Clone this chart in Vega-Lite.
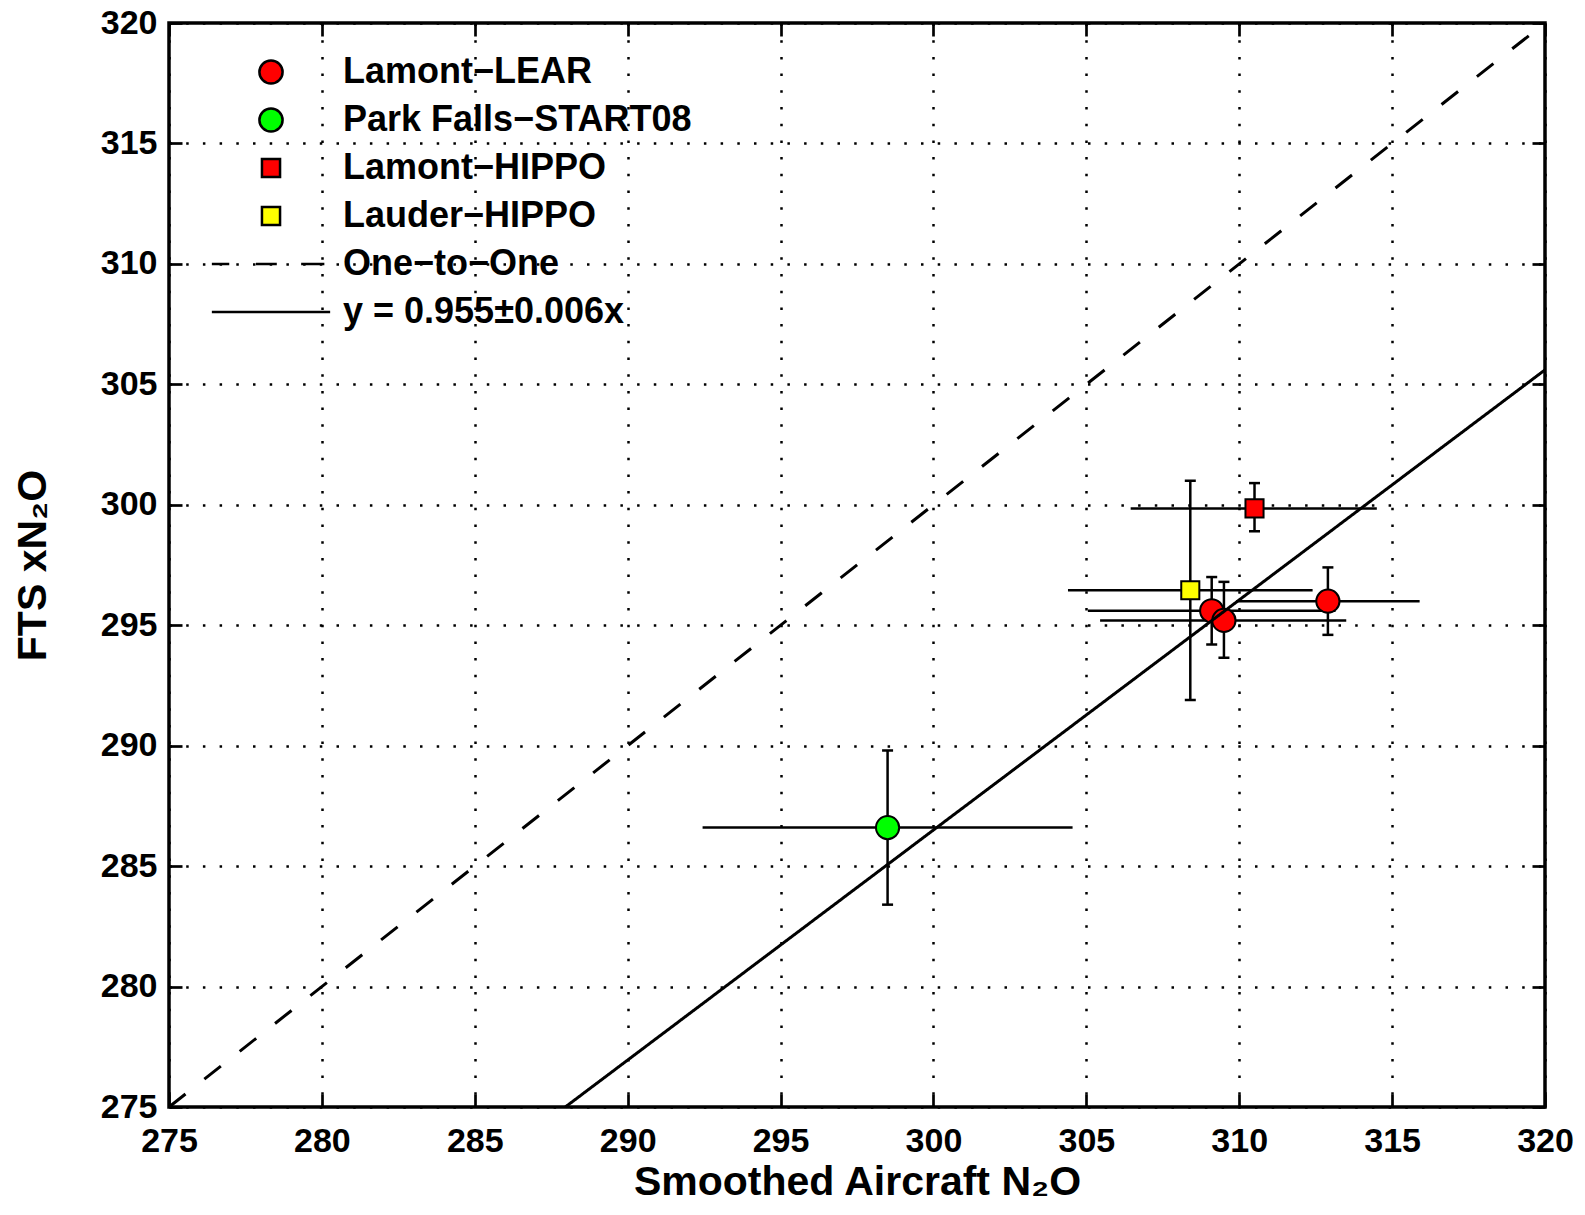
{
  "$schema": "https://vega.github.io/schema/vega-lite/v6.json",
  "width": 1376,
  "height": 1084,
  "autosize": {"type": "none"},
  "padding": {"left": 169, "top": 23, "right": 40, "bottom": 108},
  "background": "white",
  "config": {
    "view": {"stroke": "black", "strokeWidth": 3.5},
    "font": "Liberation Sans",
    "legend": {"symbolStrokeWidth": 2.5, "symbolOpacity": 1},
    "axis": {
      "labelFont": "Liberation Sans", "labelFontWeight": "bold", "labelFontSize": 34, "labelColor": "black",
      "titleFont": "Liberation Sans", "titleFontWeight": "bold", "titleFontSize": 41, "titleColor": "black",
      "gridColor": "black", "gridDash": [2.5, 14.2], "gridWidth": 2.5, "gridOpacity": 1,
      "tickColor": "black", "tickWidth": 2.7, "tickSize": -13, "domain": false,
      "labelFlush": false, "labelOverlap": false
    }
  },
  "datasets": {
    "pts": [
      {"series": "Lamont−LEAR", "x": 309.1, "y": 295.6, "xlo": 305.05, "xhi": 313.15, "ylo": 294.2, "yhi": 297.0},
      {"series": "Lamont−LEAR", "x": 309.5, "y": 295.2, "xlo": 305.45, "xhi": 313.5, "ylo": 293.65, "yhi": 296.8},
      {"series": "Lamont−LEAR", "x": 312.9, "y": 296.0, "xlo": 309.9, "xhi": 315.9, "ylo": 294.6, "yhi": 297.4},
      {"series": "Park Falls−START08", "x": 298.5, "y": 286.6, "xlo": 292.45, "xhi": 304.55, "ylo": 283.4, "yhi": 289.8},
      {"series": "Lauder−HIPPO", "x": 308.4, "y": 296.45, "xlo": 304.4, "xhi": 312.4, "ylo": 291.9, "yhi": 301.0},
      {"series": "Lamont−HIPPO", "x": 310.5, "y": 299.85, "xlo": 306.45, "xhi": 314.5, "ylo": 298.9, "yhi": 300.9}
    ],
    "lines": [
      {"series": "One−to−One", "x": 275, "y": 275},
      {"series": "One−to−One", "x": 320, "y": 320},
      {"series": "y = 0.955±0.006x", "x": 287.96, "y": 275},
      {"series": "y = 0.955±0.006x", "x": 320, "y": 305.6}
    ]
  },
  "layer": [
    {
      "data": {"name": "pts"},
      "layer": [
        {
          "mark": {"type": "rule", "color": "black", "strokeWidth": 2.5},
          "encoding": {
            "x": {"field": "xlo", "type": "quantitative",
              "scale": {"domain": [275, 320], "nice": false, "zero": false},
              "axis": {"orient": "bottom", "values": [275, 280, 285, 290, 295, 300, 305, 310, 315, 320],
                "labelPadding": 30, "title": "Smoothed Aircraft N₂O", "titleY": 87, "titleBaseline": "alphabetic", "grid": true}},
            "x2": {"field": "xhi"},
            "y": {"field": "y", "type": "quantitative",
              "scale": {"domain": [275, 320], "nice": false, "zero": false},
              "axis": {"orient": "left", "values": [275, 280, 285, 290, 295, 300, 305, 310, 315, 320],
                "labelPadding": 25, "title": "FTS xN₂O", "titleX": -124, "titleBaseline": "alphabetic", "grid": true}}
          }
        },
        {
          "mark": {"type": "rule", "color": "black", "strokeWidth": 2.5},
          "encoding": {
            "x": {"field": "x", "type": "quantitative"},
            "y": {"field": "ylo", "type": "quantitative"},
            "y2": {"field": "yhi"}
          }
        },
        {
          "mark": {"type": "tick", "orient": "horizontal", "color": "black", "size": 11, "thickness": 2.5, "opacity": 1},
          "encoding": {
            "x": {"field": "x", "type": "quantitative"},
            "y": {"field": "ylo", "type": "quantitative"}
          }
        },
        {
          "mark": {"type": "tick", "orient": "horizontal", "color": "black", "size": 11, "thickness": 2.5, "opacity": 1},
          "encoding": {
            "x": {"field": "x", "type": "quantitative"},
            "y": {"field": "yhi", "type": "quantitative"}
          }
        },
        {
          "mark": {"type": "point", "filled": true, "strokeWidth": 2, "opacity": 1, "size": 538},
          "encoding": {
            "x": {"field": "x", "type": "quantitative"},
            "y": {"field": "y", "type": "quantitative"},
            "stroke": {"field": "series", "type": "nominal",
              "scale": {
                "domain": ["Lamont−LEAR", "Park Falls−START08", "Lamont−HIPPO", "Lauder−HIPPO", "One−to−One", "y = 0.955±0.006x"],
                "range": ["black", "black", "black", "black", "black", "black"]
              },
              "legend": {
                "title": null, "orient": "none", "legendX": 84, "legendY": 31, "direction": "vertical",
                "symbolSize": 538,
                "labelFont": "Liberation Sans", "labelFontWeight": "bold", "labelFontSize": 36, "labelColor": "black",
                "labelLimit": 1000, "labelOffset": 54, "rowPadding": 12, "padding": 0, "offset": 0
              }
            },
            "shape": {"field": "series", "type": "nominal",
              "scale": {
                "domain": ["Lamont−LEAR", "Park Falls−START08", "Lamont−HIPPO", "Lauder−HIPPO", "One−to−One", "y = 0.955±0.006x"],
                "range": [
                  "M1,0A1,1,0,1,1,-1,0A1,1,0,1,1,1,0Z",
                  "M1,0A1,1,0,1,1,-1,0A1,1,0,1,1,1,0Z",
                  "M-0.78,-0.78H0.78V0.78H-0.78Z",
                  "M-0.78,-0.78H0.78V0.78H-0.78Z",
                  "M-5.1,0H-3.6M-1.3,0H0.5M2.6,0H4.6",
                  "M-5.1,0H5.1"
                ]
              },
              "legend": {
                "title": null, "orient": "none", "legendX": 84, "legendY": 31, "direction": "vertical",
                "symbolSize": 538,
                "labelFont": "Liberation Sans", "labelFontWeight": "bold", "labelFontSize": 36, "labelColor": "black",
                "labelLimit": 1000, "labelOffset": 54, "rowPadding": 12, "padding": 0, "offset": 0
              }
            },
            "fill": {"field": "series", "type": "nominal",
              "scale": {
                "domain": ["Lamont−LEAR", "Park Falls−START08", "Lamont−HIPPO", "Lauder−HIPPO", "One−to−One", "y = 0.955±0.006x"],
                "range": ["#ff0000", "#00ff00", "#ff0000", "#ffff00", "black", "black"]
              },
              "legend": {
                "title": null, "orient": "none", "legendX": 84, "legendY": 31, "direction": "vertical",
                "symbolSize": 538,
                "labelFont": "Liberation Sans", "labelFontWeight": "bold", "labelFontSize": 36, "labelColor": "black",
                "labelLimit": 1000, "labelOffset": 54, "rowPadding": 12, "padding": 0, "offset": 0
              }
            }
          }
        }
      ]
    },
    {
      "data": {"name": "lines"},
      "mark": {"type": "line", "color": "black", "strokeWidth": 3},
      "encoding": {
        "x": {"field": "x", "type": "quantitative",
          "axis": {"orient": "top", "values": [275, 280, 285, 290, 295, 300, 305, 310, 315, 320],
            "labels": false, "grid": false, "title": null, "ticks": true}},
        "y": {"field": "y", "type": "quantitative",
          "axis": {"orient": "right", "values": [275, 280, 285, 290, 295, 300, 305, 310, 315, 320],
            "labels": false, "grid": false, "title": null, "ticks": true}},
        "strokeDash": {"field": "series", "type": "nominal",
          "scale": {"domain": ["One−to−One", "y = 0.955±0.006x"], "range": [[21, 24], [1, 0]]},
          "legend": null}
      }
    }
  ],
  "resolve": {"axis": {"x": "independent", "y": "independent"}}
}
